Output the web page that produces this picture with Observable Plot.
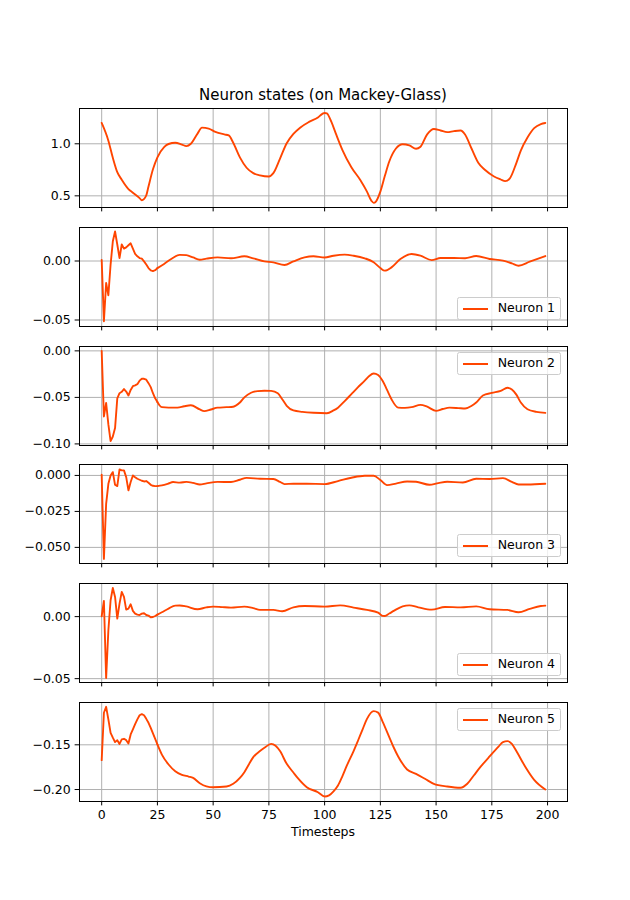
<!DOCTYPE html>
<html>
<head>
<meta charset="utf-8">
<script src="https://cdn.jsdelivr.net/npm/d3@7"></script>
<script src="https://cdn.jsdelivr.net/npm/@observablehq/plot@0.6"></script>
<style>
  body { margin: 0; background: white; }
  #fig { position: relative; width: 630px; height: 900px; font-family: "DejaVu Sans", sans-serif; color: black; overflow: hidden; }
  #fig svg { position: absolute; left: 0; }
  .title { position: absolute; left: 79px; width: 488px; text-align: center; font-size: 15px; line-height: 15px; white-space: nowrap; }
  .xlabel { position: absolute; left: 79px; width: 488px; text-align: center; font-size: 12.5px; line-height: 12.5px; }
  .legend { position: absolute; right: 69px; height: 23px; box-sizing: border-box; border: 1px solid #cccccc; border-radius: 2.5px;
            background: rgba(255,255,255,0.8); display: flex; align-items: center; padding: 0 5px; }
  .legend .swatch { width: 25px; height: 2px; background: orangered; margin-right: 10px; }
  .legend .label { font-size: 12.5px; line-height: 12.5px; white-space: nowrap; }
</style>
</head>
<body>
<div id="fig"></div>
<script>
// Reservoir run on the Mackey-Glass series: input signal and five neuron states.

const xTicks = [0, 25, 50, 75, 100, 125, 150, 175, 200];

// Mackey-Glass input
const mgSteps = [0, 3, 5, 7, 9, 12, 14, 17, 18, 20, 21, 23, 25, 28, 30, 33, 36, 38, 40, 43, 45, 48, 51, 55, 57, 59, 62, 65, 68, 71, 75, 77, 80, 83, 86, 89, 93, 97, 99, 100, 101, 103, 105, 108, 112, 116, 119, 121, 122, 123, 125, 127, 129, 132, 135, 138, 141, 143, 146, 149, 152, 155, 158, 161, 163, 166, 169, 172, 176, 179, 181, 183, 186, 188, 191, 194, 197, 199];
const mgValues = [1.200, 1.030, 0.865, 0.727, 0.655, 0.565, 0.530, 0.478, 0.458, 0.505, 0.590, 0.755, 0.870, 0.968, 0.998, 1.010, 0.992, 0.978, 1.000, 1.098, 1.155, 1.146, 1.114, 1.090, 1.080, 1.010, 0.870, 0.770, 0.718, 0.697, 0.686, 0.718, 0.858, 1.005, 1.095, 1.155, 1.210, 1.252, 1.288, 1.296, 1.292, 1.212, 1.100, 0.940, 0.775, 0.652, 0.540, 0.452, 0.433, 0.445, 0.540, 0.690, 0.830, 0.955, 0.995, 0.984, 0.952, 0.972, 1.090, 1.142, 1.128, 1.112, 1.122, 1.128, 1.090, 0.950, 0.815, 0.748, 0.686, 0.657, 0.641, 0.665, 0.815, 0.935, 1.060, 1.150, 1.190, 1.200];
const mgTicks = [0.5, 1.0];

// Neuron 1
const n1Steps = [0, 1, 2, 3, 4, 5, 6, 7, 8, 9, 10, 11, 12, 13, 14, 15, 16, 17, 18, 19, 20, 21, 22, 23, 24, 25, 28, 31, 35, 38, 41, 44, 47, 52, 58, 64, 68, 73, 77, 82, 86, 91, 95, 100, 104, 109, 113, 118, 122, 125, 127, 130, 134, 139, 143, 148, 152, 158, 163, 168, 174, 180, 184, 187, 192, 199];
const n1Values = [0.001, -0.051, -0.0186, -0.029, -0.003, 0.0167, 0.025, 0.014, 0.0025, 0.014, 0.0105, 0.0116, 0.0133, 0.015, 0.0105, 0.006, 0.004, 0.0025, 0.002, -0.0003, -0.003, -0.006, -0.008, -0.0085, -0.0078, -0.006, -0.0025, 0.0015, 0.0052, 0.005, 0.003, 0.0011, 0.002, 0.0031, 0.0023, 0.004, 0.0023, -0.0003, -0.0011, -0.0034, -0.0003, 0.0031, 0.004, 0.003, 0.0045, 0.0054, 0.0045, 0.0023, -0.001, -0.006, -0.0082, -0.0054, 0.0017, 0.0059, 0.0045, 0.0008, 0.0025, 0.0025, 0.0023, 0.0042, 0.0017, 0.0003, -0.002, -0.004, -0.0006, 0.0042];
const n1Ticks = [-0.05, 0];

// Neuron 2
const n2Steps = [0, 1, 2, 3, 4, 5, 6, 7, 8, 9, 10, 11, 12, 13, 14, 15, 16, 17, 18, 19, 20, 21, 22, 23, 24, 25, 26, 27, 30, 34, 37, 40, 44, 46, 49, 52, 56, 59, 62, 64, 67, 70, 73, 76, 79, 81, 83, 86, 90, 95, 101, 104, 106, 109, 112, 115, 118, 120, 122, 124, 126, 128, 130, 133, 136, 139, 143, 146, 150, 153, 156, 160, 163, 166, 168, 171, 175, 179, 182, 184, 186, 188, 191, 195, 199];
const n2Values = [0, -0.0705, -0.056, -0.079, -0.097, -0.092, -0.083, -0.051, -0.0455, -0.044, -0.041, -0.0437, -0.048, -0.042, -0.038, -0.037, -0.0358, -0.032, -0.030, -0.030, -0.031, -0.0347, -0.039, -0.0455, -0.051, -0.055, -0.0587, -0.0605, -0.061, -0.061, -0.0595, -0.0585, -0.063, -0.0648, -0.063, -0.061, -0.0605, -0.060, -0.0555, -0.050, -0.045, -0.0432, -0.0428, -0.043, -0.0455, -0.052, -0.059, -0.064, -0.0655, -0.0665, -0.067, -0.064, -0.061, -0.054, -0.0465, -0.039, -0.032, -0.027, -0.0243, -0.026, -0.032, -0.042, -0.052, -0.061, -0.0612, -0.0605, -0.058, -0.060, -0.0645, -0.0625, -0.061, -0.0615, -0.062, -0.059, -0.0555, -0.048, -0.0452, -0.043, -0.0397, -0.0415, -0.047, -0.0555, -0.0627, -0.0655, -0.0666];
const n2Ticks = [-0.10, -0.05, 0];

// Neuron 3
const n3Steps = [0, 1, 2, 3, 4, 5, 6, 7, 8, 9, 10, 11, 12, 13, 14, 15, 16, 17, 18, 19, 20, 21, 22, 23, 24, 25, 27, 30, 32, 35, 38, 41, 44, 47, 52, 58, 62, 65, 71, 77, 80, 82, 86, 92, 100, 106, 112, 118, 122, 125, 128, 132, 137, 141, 147, 151, 155, 162, 168, 174, 180, 184, 187, 191, 199];
const n3Values = [0.0005, -0.058, -0.0197, -0.0058, 0, 0.0023, -0.0065, -0.0074, 0.0042, 0.0035, 0.0035, -0.0012, -0.0104, -0.0046, 0, -0.0012, -0.0023, -0.003, -0.0037, -0.0042, -0.0039, -0.0051, -0.0065, -0.0072, -0.0074, -0.0074, -0.0069, -0.0056, -0.0046, -0.005, -0.0045, -0.0052, -0.0063, -0.0055, -0.0045, -0.0046, -0.003, -0.0017, -0.0023, -0.0025, -0.0045, -0.006, -0.0058, -0.0058, -0.006, -0.0039, -0.0016, -0.0002, -0.0002, -0.0032, -0.0067, -0.0057, -0.0042, -0.0044, -0.0065, -0.0053, -0.0044, -0.0049, -0.0023, -0.0025, -0.0019, -0.0045, -0.0063, -0.0063, -0.0058];
const n3Ticks = [-0.050, -0.025, 0];

// Neuron 4
const n4Steps = [0, 1, 2, 3, 4, 5, 6, 7, 8, 9, 10, 11, 12, 13, 14, 15, 16, 17, 18, 19, 20, 21, 22, 23, 24, 25, 27, 30, 33, 35, 38, 43, 47, 50, 54, 58, 64, 68, 71, 77, 81, 86, 91, 100, 107, 113, 119, 124, 126, 127, 129, 131, 135, 138, 142, 148, 154, 161, 168, 174, 182, 187, 192, 197, 199];
const n4Values = [0.0003, 0.0126, -0.0495, -0.011, 0.0132, 0.0231, 0.0159, -0.0016, 0.0105, 0.0199, 0.0159, 0.0056, 0.0065, 0.0100, 0.0046, 0.0024, 0.0016, 0.0013, 0.0024, 0.0027, 0.0013, 0.0008, -0.0005, -0.0003, 0.0005, 0.0016, 0.0035, 0.0065, 0.0089, 0.0090, 0.0082, 0.0059, 0.0075, 0.0081, 0.0077, 0.0073, 0.0081, 0.0068, 0.0054, 0.0054, 0.0043, 0.0075, 0.0086, 0.0081, 0.0091, 0.0073, 0.0054, 0.0032, 0.0006, 0.0005, 0.0025, 0.0046, 0.0083, 0.0091, 0.0075, 0.0056, 0.0078, 0.0075, 0.0083, 0.0059, 0.0054, 0.0035, 0.0063, 0.0086, 0.0089];
const n4Ticks = [-0.05, 0];

// Neuron 5
const n5Steps = [0, 1, 2, 3, 4, 5, 6, 7, 8, 9, 10, 11, 12, 13, 14, 15, 16, 17, 18, 19, 20, 21, 22, 23, 24, 25, 27, 30, 33, 36, 39, 41, 44, 47, 50, 56, 59, 62, 64, 66, 68, 71, 73, 76, 78, 80, 83, 86, 88, 92, 97, 100, 102, 104, 106, 108, 110, 113, 115, 117, 119, 122, 124, 126, 129, 131, 133, 137, 141, 145, 149, 155, 161, 164, 167, 170, 174, 178, 180, 182, 184, 186, 190, 194, 199];
const n5Values = [-0.1672, -0.1142, -0.1075, -0.1216, -0.1366, -0.142, -0.147, -0.1448, -0.149, -0.144, -0.1433, -0.1448, -0.1485, -0.1384, -0.1328, -0.127, -0.1216, -0.117, -0.1157, -0.117, -0.121, -0.1254, -0.131, -0.1373, -0.1433, -0.1496, -0.161, -0.172, -0.1795, -0.1835, -0.1855, -0.187, -0.193, -0.1965, -0.1975, -0.1966, -0.1936, -0.187, -0.1806, -0.172, -0.1638, -0.157, -0.1534, -0.1489, -0.151, -0.157, -0.1713, -0.181, -0.1873, -0.1974, -0.203, -0.2078, -0.2065, -0.202, -0.1955, -0.185, -0.1731, -0.157, -0.1452, -0.133, -0.121, -0.1123, -0.114, -0.124, -0.1414, -0.153, -0.163, -0.1776, -0.1825, -0.188, -0.1936, -0.1966, -0.198, -0.1936, -0.184, -0.1745, -0.163, -0.152, -0.147, -0.1459, -0.149, -0.157, -0.1745, -0.1892, -0.200];
const n5Ticks = [-0.20, -0.15];

const neuronLabels = ["Neuron 1", "Neuron 2", "Neuron 3", "Neuron 4", "Neuron 5"];

// Panel setup: y extent, tick format and legend corner of each subplot.
// Neuron traces are step-by-step over the first 25 steps (drawn straight),
// smooth afterwards.
const panels = [
  {steps: mgSteps, values: mgValues, ticks: mgTicks, domain: [0.388, 1.339], fmt: ".1f", legend: null, warmup: 0},
  {steps: n1Steps, values: n1Values, ticks: n1Ticks, domain: [-0.0555, 0.0284], fmt: ".2f", legend: "lower", warmup: 25},
  {steps: n2Steps, values: n2Values, ticks: n2Ticks, domain: [-0.1017, 0.0047], fmt: ".2f", legend: "upper", warmup: 25},
  {steps: n3Steps, values: n3Values, ticks: n3Ticks, domain: [-0.0612, 0.0076], fmt: ".3f", legend: "lower", warmup: 25},
  {steps: n4Steps, values: n4Values, ticks: n4Ticks, domain: [-0.0531, 0.0267], fmt: ".2f", legend: "lower", warmup: 25},
  {steps: n5Steps, values: n5Values, ticks: n5Ticks, domain: [-0.2134, -0.1027], fmt: ".2f", legend: "upper", warmup: 25}
];

const fig = document.getElementById("fig");
const axTop0 = 108, axPitch = 118.8, axH = 99;
const tick = 4.375;
const lineStyle = {x: "t", y: "v", stroke: "orangered", strokeWidth: 1.875, strokeLinejoin: "round"};

panels.forEach((p, i) => {
  const last = i === panels.length - 1;
  const mt = 10, mb = last ? 60 : 10;
  const axTop = axTop0 + i * axPitch;
  const data = p.steps.map((t, k) => ({t, v: p.values[k]}));
  const early = data.filter(d => d.t <= p.warmup);
  const later = data.filter(d => d.t >= p.warmup);
  const svg = Plot.plot({
    width: 630,
    height: mt + axH + mb,
    marginLeft: 79, marginRight: 63, marginTop: mt, marginBottom: mb,
    style: {background: "transparent", fontFamily: "DejaVu Sans", fontSize: "12.5px", color: "black", overflow: "visible"},
    x: {domain: [-9.95, 208.95], ticks: xTicks, tickSize: tick, tickPadding: tick,
        tickFormat: last ? (d => String(d)) : (() => ""), label: null},
    y: {domain: p.domain, ticks: p.ticks, tickSize: tick, tickPadding: tick,
        tickFormat: d3.format(p.fmt), label: null},
    marks: [
      Plot.ruleX(xTicks, {stroke: "#b0b0b0", strokeWidth: 1}),
      Plot.ruleY(p.ticks, {stroke: "#b0b0b0", strokeWidth: 1}),
      early.length > 1 ? Plot.line(early, {...lineStyle, curve: "linear"}) : null,
      Plot.line(later, {...lineStyle, curve: "monotone-x"}),
      Plot.frame({stroke: "black", strokeWidth: 1})
    ]
  });
  svg.style.top = (axTop - mt) + "px";
  fig.appendChild(svg);

  if (p.legend) {
    const box = document.createElement("div");
    box.className = "legend";
    box.style.top = Math.round(p.legend === "upper" ? axTop + 6.25 : axTop + axH - 6.25 - 23) + "px";
    box.innerHTML = `<div class="swatch"></div><div class="label">${neuronLabels[i - 1]}</div>`;
    fig.appendChild(box);
  }
});

const title = document.createElement("div");
title.className = "title";
title.style.top = "87.8px";
title.textContent = "Neuron states (on Mackey-Glass)";
fig.appendChild(title);

const xlabel = document.createElement("div");
xlabel.className = "xlabel";
xlabel.style.top = "826.1px";
xlabel.textContent = "Timesteps";
fig.appendChild(xlabel);
</script>
</body>
</html>
